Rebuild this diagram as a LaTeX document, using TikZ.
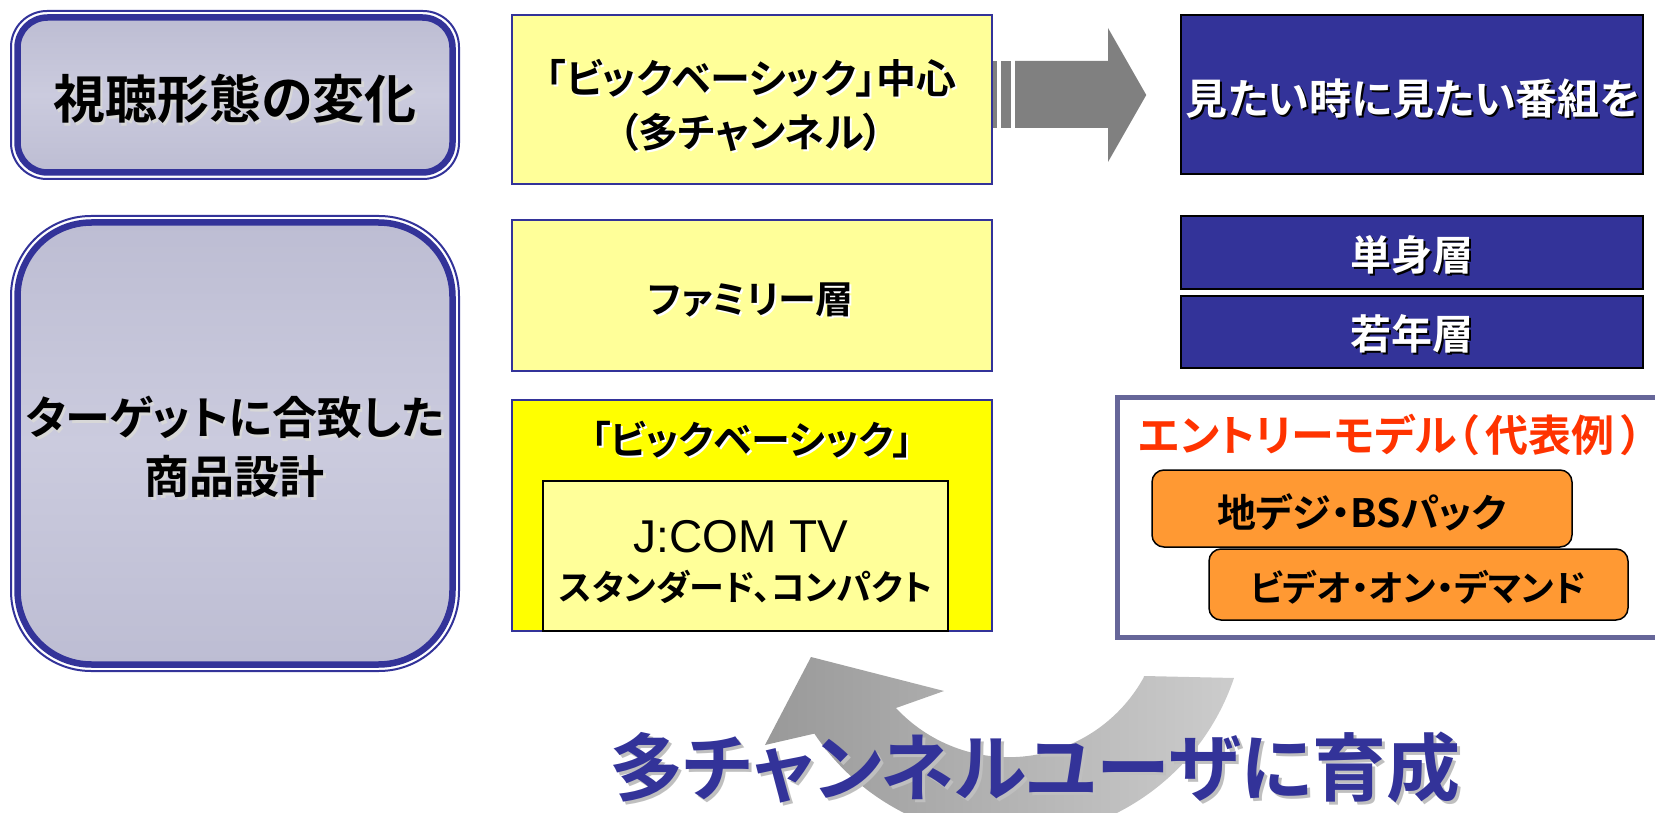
\documentclass[tikz,border=0pt]{standalone}
\usepackage{fontspec}
\usetikzlibrary{calc}
\setmainfont{Noto Sans CJK JP}[BoldFont={* Bold},RawFeature=+palt]
\newfontfamily\arialf{Liberation Sans}
\newcommand{\fsz}[2]{\fontsize{#1}{#2}\selectfont}
\definecolor{navy}{HTML}{333399}
\definecolor{lyellow}{HTML}{FFFF99}
\definecolor{byellow}{HTML}{FFFF00}
\definecolor{orng}{HTML}{FF9933}
\definecolor{entryred}{HTML}{FF3300}
\definecolor{entrybd}{HTML}{666699}
\definecolor{lavtop}{HTML}{BDBDD3}
\definecolor{lavmid}{HTML}{CBCBDE}
\definecolor{arrgray}{HTML}{808080}
\definecolor{shdw}{HTML}{D8D8D8}
\begin{document}
\begin{tikzpicture}[x=1pt,y=-1pt,
  txt/.style={inner sep=0pt, align=center, font=\bfseries},
  outerbox/.style={draw=navy, line width=2pt, inner sep=0pt},
  innerbox/.style={draw=navy, line width=6.5pt, inner sep=0pt, top color=lavtop, bottom color=lavtop, middle color=lavmid},
  ybox/.style={draw=navy, line width=1.5pt, inner sep=0pt, fill=lyellow},
  bbox/.style={draw=black, line width=1.5pt, inner sep=0pt, fill=navy},
  obox/.style={draw=black, line width=1.5pt, inner sep=0pt, fill=orng, rounded corners=12pt},
]
\useasboundingbox (0,0) rectangle (1655,813);
\clip (0,0) rectangle (1655,813);

% left boxes
\node[outerbox, rounded corners=36pt, minimum width=448, minimum height=168] (Aout) at (235,95) {};
\node[innerbox, rounded corners=30pt, minimum width=435, minimum height=155] (A) at (235,95) {};
\node[txt, text=shdw, font=\bfseries\fsz{52}{60}] (Ash) at (237.5,101.5) {視聴形態の変化};
\node[txt, font=\bfseries\fsz{52}{60}] (At) at (235,99) {視聴形態の変化};

\node[outerbox, rounded corners=80pt, minimum width=448, minimum height=455] (Bout) at (235,443.5) {};
\node[innerbox, rounded corners=74pt, minimum width=435, minimum height=442] (B) at (235,443.5) {};
\node[txt, text=shdw, font=\bfseries\fsz{45}{59}] (Bsh) at (237.5,449.5) {ターゲットに合致した\\商品設計};
\node[txt, font=\bfseries\fsz{45}{59}] (Bt) at (235,447) {ターゲットに合致した\\商品設計};

% yellow boxes
\node[ybox, minimum width=480, minimum height=169] (Y1) at (752,99.5) {};
\node[txt, text=white, font=\bfseries\fsz{40}{54}] (Y1sh) at (753,107) {「ビックベーシック」中心\\（多チャンネル）};
\node[txt, font=\bfseries\fsz{40}{54}] (Y1t) at (751,105) {「ビックベーシック」中心\\（多チャンネル）};

\node[ybox, minimum width=480, minimum height=151] (Y2) at (752,295.5) {};
\node[txt, text=white, font=\bfseries\fsz{38}{54}] (Y2sh) at (753,302) {ファミリー層};
\node[txt, font=\bfseries\fsz{38}{54}] (Y2t) at (751,300) {ファミリー層};

\node[ybox, fill=byellow, minimum width=480, minimum height=231] (Y3) at (752,515.5) {};
\node[txt, text=white, font=\bfseries\fsz{39}{54}] (Y3sh) at (754,442) {「ビックベーシック」};
\node[txt, font=\bfseries\fsz{39}{54}] (Y3t) at (752,440) {「ビックベーシック」};
\node[draw=black, line width=2pt, fill=lyellow, inner sep=0pt, minimum width=405, minimum height=150] (J) at (745.5,556) {};
\node[inner sep=0pt, font=\arialf\fsz{46}{52}] (Jt1) at (741,537) {J:COM TV};
\node[txt, font=\bfseries\fsz{35}{40}] (Jt2) at (746,587) {スタンダード、コンパクト};

% blue boxes
\node[bbox, minimum width=462, minimum height=159] (N1) at (1412,94.5) {};
\node[txt, text=black, font=\bfseries\fsz{42}{48}] (N1sh) at (1415,101) {見たい時に見たい番組を};
\node[txt, text=white, font=\bfseries\fsz{42}{48}] (N1t) at (1413,99) {見たい時に見たい番組を};
\node[bbox, minimum width=462, minimum height=73] (N2) at (1412,252.5) {};
\node[txt, text=black, font=\bfseries\fsz{41}{48}] (N2sh) at (1414,257) {単身層};
\node[txt, text=white, font=\bfseries\fsz{41}{48}] (N2t) at (1412,255) {単身層};
\node[bbox, minimum width=462, minimum height=72] (N3) at (1412,332) {};
\node[txt, text=black, font=\bfseries\fsz{41}{48}] (N3sh) at (1414,336) {若年層};
\node[txt, text=white, font=\bfseries\fsz{41}{48}] (N3t) at (1412,334) {若年層};

% top block arrow from Y1 to N1
\fill[arrgray] (Y1.east |- 0,61) rectangle (997,128);
\fill[arrgray] (1001,61) rectangle (1011,128);
\fill[arrgray] (1015,61) -- (1108,61) -- (1108,28) -- ($(N1.west)+(-34,0.5)$) -- (1108,162) -- (1108,128) -- (1015,128) -- cycle;

% entry model box
\node[draw=entrybd, line width=5pt, fill=white, inner sep=0pt, minimum width=583, minimum height=240] (E) at (1408.5,517) {};
\node[txt, text=entryred, font=\bfseries\fsz{43}{48}] (Et) at (1391,435) {エントリーモデル（\hspace{7pt}代表例\hspace{7pt}）};
\node[obox, minimum width=420, minimum height=77] (O1) at (1362,508.5) {};
\node[txt, font=\bfseries\fsz{39}{44}] (O1t) at (1362,512) {地デジ・BSパック};
\node[obox, minimum width=419, minimum height=71] (O2) at (1418.5,584.5) {};
\node[txt, font=\bfseries\fsz{36}{40}] (O2t) at (1418,587) {ビデオ・オン・デマンド};

% circular arrow from entry box back to big basic
\shade[left color=black!40, right color=black!20, shading angle=90]
  (1144,676) -- (1234,678) arc[start angle=18.7, end angle=146.2, radius=236]
  -- (765,745) -- (811,657) -- (944,691) -- (896,708)
  arc[start angle=137.1, end angle=28.9, radius=154] -- cycle;

\node[txt, text=black!25, font=\bfseries\fsz{74}{80}] (Ush) at (1038,771) {多チャンネルユーザに育成};
\node[txt, text=navy, font=\bfseries\fsz{74}{80}] (Ut) at (1035,768) {多チャンネルユーザに育成};
\end{tikzpicture}
\end{document}
